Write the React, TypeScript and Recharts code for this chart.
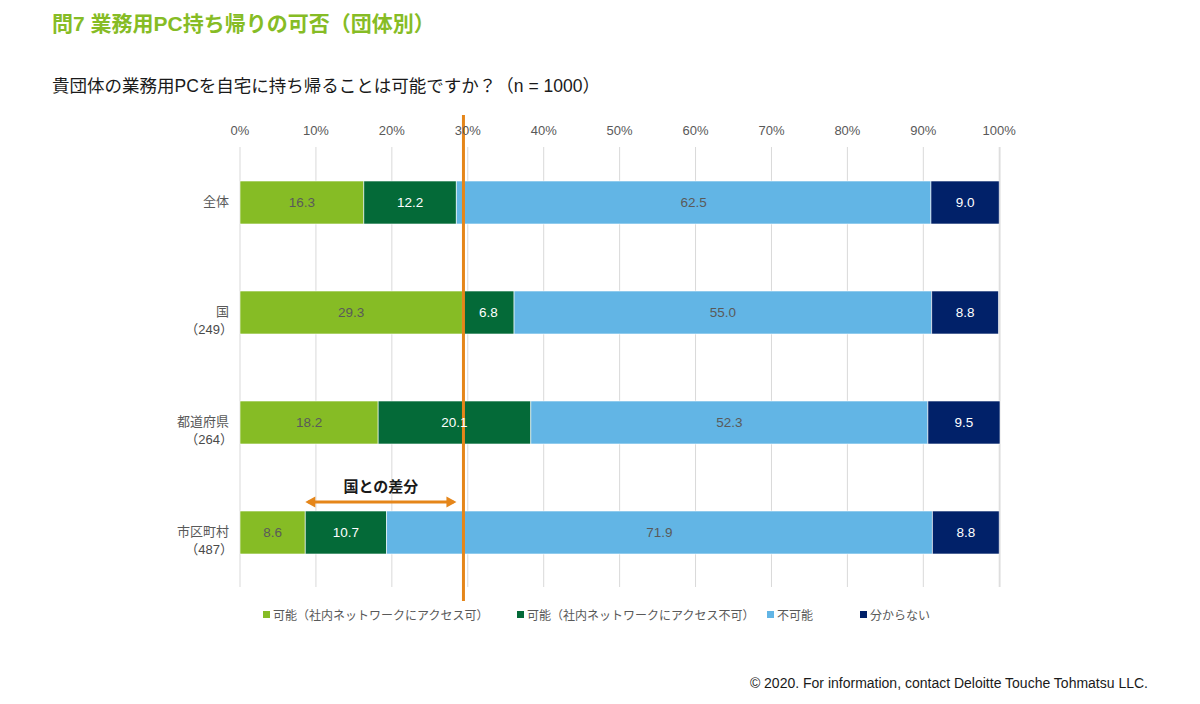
import React from 'react';
import { Bar, BarChart, CartesianGrid, LabelList, ReferenceLine, XAxis, YAxis } from 'recharts';

const FONT = "'Liberation Sans', Arial, 'Noto Sans CJK JP', sans-serif";

const groups = ['全体', '国', '都道府県', '市区町村'];
const groupCounts = ['', '（249）', '（264）', '（487）'];

const canAccess = [16.3, 29.3, 18.2, 8.6];
const canNoAccess = [12.2, 6.8, 20.1, 10.7];
const cannot = [62.5, 55.0, 52.3, 71.9];
const unknown = [9.0, 8.8, 9.5, 8.8];

const percentTicks = [0, 10, 20, 30, 40, 50, 60, 70, 80, 90, 100];

const nationalValue = 29.3;
const municipalValue = 8.6;

const series = [
	{ key: 'canAccess', name: '可能（社内ネットワークにアクセス可）', color: '#86bc25', label: '#5a5a5a' },
	{ key: 'canNoAccess', name: '可能（社内ネットワークにアクセス不可）', color: '#046a38', label: '#ffffff' },
	{ key: 'cannot', name: '不可能', color: '#62b5e5', label: '#5a5a5a' },
	{ key: 'unknown', name: '分からない', color: '#012169', label: '#ffffff' }
];

const data = groups.map((g, i) => ({
	group: g,
	count: groupCounts[i],
	canAccess: canAccess[i],
	canNoAccess: canNoAccess[i],
	cannot: cannot[i],
	unknown: unknown[i]
}));

const ORANGE = '#e5861a';

const GroupTick = (props: any) => {
	const { x, y, payload, index } = props;
	const sub = groupCounts[index] ?? '';
	return (
		<g>
			<text x={x} y={y} dy={4} textAnchor="end" fontSize={13} fill="#595959" fontFamily={FONT}>
				{payload.value}
			</text>
			{sub && (
				<text x={x + 4} y={y} dy={22} textAnchor="end" fontSize={13} fill="#4a4a4a" fontFamily={FONT}>
					{sub}
				</text>
			)}
		</g>
	);
};

const ExtendedLine = (props: any) => {
	const { x1, y1, x2, y2 } = props;
	return <line x1={x1 + 1} x2={x2 + 1} y1={y1 - 32} y2={y2 + 14} stroke={ORANGE} strokeWidth={3} />;
};

const DiffArrow = (props: any) => {
	const { x1, y1, x2 } = props;
	const y = y1 - 30;
	const left = x1;
	const right = x2 - 6;
	const head = 8;
	return (
		<g>
			<line x1={left + 3} x2={right - 3} y1={y} y2={y} stroke={ORANGE} strokeWidth={3} />
			<path d={`M${left},${y} L${left + head + 2},${y - 5.5} L${left + head + 2},${y + 5.5} Z`} fill={ORANGE} />
			<path d={`M${right},${y} L${right - head - 2},${y - 5.5} L${right - head - 2},${y + 5.5} Z`} fill={ORANGE} />
			<text x={(left + right) / 2} y={y - 10} textAnchor="middle" fontSize={15} fontWeight="bold" fill="#1a1a1a" fontFamily={FONT}>
				国との差分
			</text>
		</g>
	);
};

export default function App() {
	return (
		<div style={{ position: 'absolute', left: 0, top: 0, width: 1200, height: 704, background: '#fff', fontFamily: FONT }}>
			<div style={{ position: 'absolute', left: 52, top: 7, fontSize: 21, fontWeight: 'bold', color: '#86bc25' }}>
				問7 業務用PC持ち帰りの可否（団体別）
			</div>
			<div style={{ position: 'absolute', left: 52, top: 72, fontSize: 17.5, color: '#1a1a1a' }}>
				貴団体の業務用PCを自宅に持ち帰ることは可能ですか？（n = 1000）
			</div>
			<BarChart
				width={1200}
				height={704}
				data={data}
				layout="vertical"
				margin={{ top: 117, right: 200, bottom: 117, left: 160 }}
				style={{ position: 'absolute', left: 0, top: 0 }}
			>
				<CartesianGrid horizontal={false} stroke="#d9d9d9" />
				<XAxis
					type="number"
					orientation="top"
					domain={[0, 100]}
					ticks={percentTicks}
					tickFormatter={(v: number) => `${v}%`}
					axisLine={false}
					tickLine={false}
					tickMargin={6}
					height={30}
					tick={{ fontSize: 13, fill: '#595959', fontFamily: FONT }}
					interval={0}
				/>
				<YAxis
					type="category"
					dataKey="group"
					width={80}
					axisLine={false}
					tickLine={false}
					tickMargin={5}
					tick={<GroupTick />}
					interval={0}
				/>
				{series.map(s => (
					<Bar key={s.key} dataKey={s.key} name={s.name} stackId="a" fill={s.color} barSize={43} stroke="#ffffff" strokeWidth={0.6} isAnimationActive={false}>
						<LabelList
							dataKey={s.key}
							position="center"
							formatter={(v: any) => Number(v).toFixed(1)}
							fill={s.label}
							fontSize={13.5}
							fontFamily={FONT}
						/>
					</Bar>
				))}
				<ReferenceLine x={nationalValue} shape={<ExtendedLine />} ifOverflow="visible" />
				<ReferenceLine
					segment={[
						{ x: municipalValue, y: '市区町村' },
						{ x: nationalValue, y: '市区町村' }
					]}
					shape={<DiffArrow />}
					ifOverflow="visible"
				/>
			</BarChart>
			<div style={{ position: 'absolute', left: 263, top: 606, fontSize: 12, color: '#595959' }}>
				{series.map((s, i) => (
					<div key={s.key} style={{ position: 'absolute', left: [0, 254, 504, 597][i], display: 'flex', alignItems: 'center', whiteSpace: 'nowrap' }}>
						<span style={{ display: 'inline-block', width: 7, height: 7, background: s.color, marginRight: 3 }} />
						{s.name}
					</div>
				))}
			</div>
			<div style={{ position: 'absolute', right: 52, top: 675, fontSize: 14, color: '#1a1a1a' }}>
				© 2020. For information, contact Deloitte Touche Tohmatsu LLC.
			</div>
		</div>
	);
}
